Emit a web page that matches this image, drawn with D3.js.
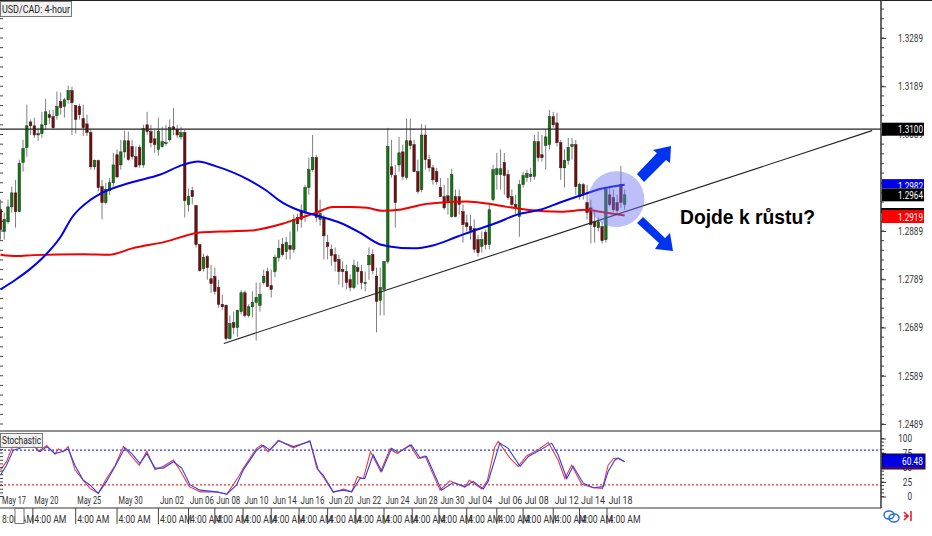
<!DOCTYPE html>
<html><head><meta charset="utf-8">
<script src="https://cdn.jsdelivr.net/npm/d3@7"></script>
<style>html,body{margin:0;padding:0;background:#fff}svg{display:block}text{font-family:Roboto,"Liberation Sans",sans-serif}</style>
</head><body><svg id="c" width="932" height="536"></svg>
<script>
// USD/CAD 4-hour candles, values in 1/10000 (12933 = 1.2933)
const opens=[12933,12888,12908,12939,12968,12929,13031,13062,13115,13107,13088,13091,13109,13130,13126,13128,13157,13147,13161,13180,13149,13147,13122,13111,13093,13022,13035,12981,12948,12973,12989,13047,13026,13053,13076,13064,13043,13062,13026,13109,13095,13080,13058,13064,13070,13078,13105,13099,13084,13093,12944,12973,12942,12861,12811,12836,12790,12795,12772,12737,12735,12666,12699,12689,12722,12761,12714,12732,12741,12735,12782,12805,12776,12805,12834,12861,12846,12859,12851,12917,12929,12929,12979,13016,13041,12913,12917,12865,12851,12840,12830,12809,12805,12788,12772,12813,12805,12780,12819,12840,12795,12745,12768,12826,13022,13004,13026,13053,13000,13076,13068,13012,12975,13088,13037,13020,13012,12979,12960,12962,12919,12960,12960,12929,12906,12898,12894,12871,12857,12886,12861,12954,13006,13006,13031,13006,12960,12944,12919,12985,13000,13002,13002,13074,13047,13066,13068,13126,13113,13072,13020,13035,13064,13068,12960,12985,12948,12937,12908,12896,12898,12871,12964,12958,12948,12985,12944];
const highs=[12954,12927,12954,12981,12995,13037,13078,13151,13120,13124,13103,13136,13163,13140,13140,13178,13176,13165,13190,13188,13149,13153,13151,13130,13099,13037,13037,12995,12989,12999,13051,13058,13078,13097,13095,13078,13064,13068,13109,13136,13109,13099,13124,13105,13109,13120,13144,13109,13105,13099,12977,12981,12942,12861,12842,12840,12819,12813,12788,12757,12737,12714,12722,12726,12766,12766,12737,12764,12782,12782,12809,12813,12809,12840,12871,12875,12877,12888,12923,12925,12944,12985,13041,13088,13047,12954,12923,12881,12861,12855,12840,12826,12819,12799,12830,12826,12819,12805,12855,12851,12813,12813,12788,13103,13078,13026,13084,13068,13122,13122,13078,13037,13111,13109,13047,13026,13020,12999,12985,12999,13018,12975,12975,12944,12923,12923,12913,12881,12888,12892,12944,13026,13051,13058,13051,13016,12975,12964,12995,13012,13016,13020,13088,13095,13088,13099,13140,13136,13134,13078,13058,13082,13082,13078,12989,12989,12985,12954,12933,12917,12908,12979,12981,12975,12964,13024,12975];
const lows=[12871,12871,12904,12927,12896,12929,13012,13043,13088,13082,13076,13082,13099,13111,13101,13120,13130,13124,13153,13088,13091,13120,13086,13086,13016,13016,12971,12913,12944,12964,12981,12999,13016,13041,13035,13037,13020,13020,13020,13088,13062,13051,13045,13062,13066,13074,13088,13082,13078,12917,12929,12944,12855,12805,12805,12788,12761,12757,12730,12726,12662,12664,12675,12670,12716,12710,12710,12710,12662,12722,12778,12774,12751,12793,12826,12836,12830,12830,12844,12888,12896,12908,12964,13012,12908,12900,12830,12830,12817,12805,12778,12772,12768,12764,12768,12778,12768,12764,12788,12799,12679,12714,12714,12821,13000,12896,13012,12995,12995,13058,13012,12966,12969,13016,13012,12985,12985,12960,12933,12923,12917,12917,12923,12865,12888,12871,12844,12836,12844,12851,12851,12950,12975,12975,12964,12954,12937,12923,12877,12979,12991,12991,12995,13033,13033,13016,13058,13103,13064,12995,12979,13026,13037,12964,12954,12954,12913,12863,12865,12888,12863,12865,12940,12929,12923,12937,12933];
const closes=[12892,12913,12939,12968,12929,13029,13060,13107,13107,13088,13091,13109,13136,13124,13103,13147,13145,13161,13180,13155,13120,13130,13103,13093,13022,13035,12979,12948,12975,12989,13026,13001,13053,13076,13037,13043,13022,13026,13101,13095,13072,13068,13095,13074,13072,13103,13099,13088,13093,12952,12960,12960,12861,12807,12834,12813,12780,12764,12737,12732,12666,12697,12689,12724,12761,12714,12732,12741,12751,12757,12795,12774,12768,12834,12853,12840,12865,12851,12913,12904,12913,12979,13016,13041,12917,12925,12879,12857,12838,12826,12805,12805,12782,12772,12817,12805,12782,12782,12838,12807,12743,12772,12826,13064,13006,12948,13051,13002,13076,13066,13012,12971,13088,13037,13020,12995,12991,12960,12937,12950,13006,12919,12944,12902,12898,12890,12851,12844,12871,12861,12933,13016,13018,13018,13004,12958,12944,12937,12985,13004,13008,13006,13074,13041,13041,13084,13126,13109,13072,13020,13035,13062,13068,12981,12985,12964,12927,12902,12898,12908,12869,12975,12944,12933,12931,12948,12964];

// Moving averages: candle index and level
const blueMaIndex=[0,4,8,11.3,16,19,24,26.5,34.5,42.5,48.5,52.5,57,66,70.3,75,79,85,90.3,95.5,101,103.5,109.7,115,121.4,126.7,132,137.4,143.5,148.8,154,160,166];
const blueMaLevel=[12768,12788,12811,12834,12877,12917,12954,12966,12989,13006,13026,13033,13024,12995,12975,12948,12933,12919,12906,12886,12861,12857,12853,12859,12877,12892,12906,12923,12933,12948,12962,12977,12985];
const redMaIndex=[0,4.4,8.7,22,29,35,44,53,58.4,66.4,75,80,84,88.4,93,97.5,101.7,106,112.4,117.7,124,129.4,134.7,140,149,156,159.5,166];
const redMaLevel=[12840,12837,12839,12841,12840,12853,12867,12886,12888,12890,12904,12917,12927,12939,12939,12937,12931,12933,12944,12948,12950,12946,12939,12933,12929,12933,12929,12921];

// Stochastic: candle index and percent
const stochBlueIndex=[0,1.6,3.4,5.2,7.4,8.7,10.5,12.3,14.5,16.3,18,19.8,22,23.8,26,28.2,30.5,33.1,34.9,37.1,38.9,41.1,43.3,46,48.2,50.4,53.1,57.5,60.2,62.8,64.6,68.1,69.9,71.7,73.9,77.9,82.3,84.5,85.8,88.5,91.2,93.4,95.6,96.9,99.1,101.4,104,105.8,109.3,111.6,113.3,117.3,120.4,123.5,125.7,128.4,129.7,132.8,135,138.2,140.4,143.5,146.6,148.3,150.6,152.3,155,157.7,160.3,161.6,163.4,164.3,166];
const stochBlue=[37,54,80,83,95,89,77,86,74,77,82,54,28,20,5.5,26,52,84,74,57,74,49,49,60,49,20,11,8,4,20,46,80,88,80,96,86,95,46,37,8,11,8,31,31,72,43,83,76,89,66,69,11,24,17,26,13,26,92,83,52,69,80,92,72,31,52,23,15,17,43,63,66,60];
const stochRedIndex=[0,1.6,3.2,5.2,7,8.7,10.1,12.3,14.5,15.4,16.7,18,19.8,22,23.8,26,28.2,30.5,32.7,34.9,36.9,38.9,41.1,43.3,46,48.2,50.2,53.1,57.5,60.2,63.3,64.6,68.1,69.5,71.2,73.9,77.9,82.3,84.1,85.8,88.5,91.2,93.4,94.9,96.5,98.4,101.1,103.6,105.5,108.9,111.1,112.9,116.9,119.5,123.5,124.7,128,129.5,131.5,132.4,135.5,137.7,139.9,143.5,145.7,148.3,150.1,151.9,154.6,157.7,160.1,161.6,163.1,164.3,166];
const stochRed=[46,60,86,86,97,89,78,88,73,82,77,86,46,28,14,5.5,31,54,86,69,54,78,46,52,63,40,17,8,8,4,34,49,83,89,77,97,84,96,49,34,7,13,8,34,31,77,43,82,74,89,66,70,11,27,16,28,13,28,86,95,66,52,70,83,93,63,31,54,21,15,14,54,66,66,60];

const priceTicks=[13289,13189,13089,12989,12889,12789,12689,12589,12489];
const stochTicks=[100,75,50,25,0];
const dateLabels=["May 17","May 20","May 25","May 30","Jun 02","Jun 06","Jun 08","Jun 10","Jun 14","Jun 16","Jun 20","Jun 22","Jun 24","Jun 28","Jun 30","Jul 04","Jul 06","Jul 08","Jul 12","Jul 14","Jul 18"];
const dateIndex=[0,8.6,20,31,42,50,57,64.5,72,79.4,87,94.5,102,109.5,116.6,124,132,139,147,154,161.3];
const timeLabels=["8:00 AM","4:00 AM","4:00 AM","4:00 AM","4:00 AM","4:00 AM","4:00 AM","4:00 AM","4:00 AM","4:00 AM","4:00 AM","4:00 AM","4:00 AM","4:00 AM","4:00 AM","4:00 AM","4:00 AM","4:00 AM","4:00 AM","4:00 AM","4:00 AM"];

const resistance=13100;
const trendIndex=[59.4,231.8], trendLevel=[12656,13097];
const priceBadges=[{v:13100,t:"1.3100",bg:"#000"},{v:12982,t:"1.2982",bg:"#0000e6"},{v:12964,t:"1.2964",bg:"#000"},{v:12919,t:"1.2919",bg:"#ff0000"}];

const svg=d3.select("#c");
const axisX=881, textCol="#333";
const x=d3.scaleLinear().domain([0,166]).range([0.5,624.66]);
const y=d3.scaleLinear().domain([13289,12489]).range([38,424]);
const ys=d3.scaleLinear().domain([0,100]).range([496.5,438.5]);
const squeeze=(sel,w)=>sel.attr("textLength",w).attr("lengthAdjust","spacingAndGlyphs");

// minor ticks on both price-pane edges
const minor=d3.range(12389,13389,20).filter(v=>y(v)>3&&y(v)<429);
svg.append("g").selectAll("line").data(minor).join("line")
  .attr("x1",0).attr("x2",3).attr("y1",d=>y(d)).attr("y2",d=>y(d)).attr("stroke","#444");
svg.append("g").selectAll("line").data(minor).join("line")
  .attr("x1",axisX).attr("x2",axisX+3).attr("y1",d=>y(d)).attr("y2",d=>y(d)).attr("stroke","#444");

// candles
const candles=d3.range(opens.length);
svg.append("g").selectAll("line").data(candles).join("line")
  .attr("x1",i=>x(i)).attr("x2",i=>x(i)).attr("y1",i=>y(highs[i])).attr("y2",i=>y(lows[i]))
  .attr("stroke","#808080").attr("stroke-width",1);
svg.append("g").selectAll("rect").data(candles).join("rect")
  .attr("x",i=>x(i)-1.25).attr("width",2.5)
  .attr("y",i=>Math.min(y(opens[i]),y(closes[i])))
  .attr("height",i=>Math.max(1,Math.abs(y(opens[i])-y(closes[i]))))
  .attr("fill",i=>closes[i]>=opens[i]?"#0a7d0a":"#7a0a0a")
  .attr("stroke","#222").attr("stroke-width",0.5);

// moving averages
const maLine=d3.line().x(d=>x(d[0])).y(d=>y(d[1])).curve(d3.curveMonotoneX);
svg.append("path").attr("d",maLine(d3.zip(redMaIndex,redMaLevel))).attr("fill","none").attr("stroke","#f00000").attr("stroke-width",2);
svg.append("path").attr("d",maLine(d3.zip(blueMaIndex,blueMaLevel))).attr("fill","none").attr("stroke","#0000ee").attr("stroke-width",2);

// resistance and trend line
svg.append("line").attr("x1",0).attr("x2",axisX).attr("y1",y(resistance)).attr("y2",y(resistance)).attr("stroke","#222").attr("stroke-width",1.2);
svg.append("line").attr("x1",x(trendIndex[0])).attr("x2",x(trendIndex[1])).attr("y1",y(trendLevel[0])).attr("y2",y(trendLevel[1])).attr("stroke","#222").attr("stroke-width",1.1);

// annotation circle and arrows
svg.append("circle").attr("cx",x(163.8)).attr("cy",y(12955)).attr("r",28).attr("fill","#6a72f0").attr("fill-opacity",0.45);
const arrow=d3.line();
svg.append("path").attr("fill","#0033ee").attr("d",arrow([[637,174],[657,153],[653,150],[671,146],[670,163],[666,160],[644,182]])+"Z");
svg.append("path").attr("fill","#0033ee").attr("d",arrow([[643,217],[665,238],[670,233],[673,251],[655,249],[659,243],[637,223]])+"Z");
svg.append("text").attr("x",680).attr("y",224).attr("font-size",19.3).attr("font-weight",700).attr("fill","#000")
  .style("font-family","'Liberation Sans',Arial,sans-serif").text("Dojde k růstu?");

// price axis
const pAxis=svg.append("g").attr("transform",`translate(${axisX},0)`)
  .call(d3.axisRight(y).tickValues(priceTicks).tickSize(5).tickFormat(d=>(d/1e4).toFixed(4)));
pAxis.select(".domain").remove();
pAxis.selectAll("line").attr("stroke","#444");
pAxis.selectAll("text").attr("x",42).attr("text-anchor","end").attr("font-size",10.5).attr("fill",textCol).style("font-family","Roboto,sans-serif")
  .call(squeeze,25);

const badges=svg.append("g");
badges.append("rect").attr("x",axisX).attr("y",y(12919)-8.5).attr("width",43).attr("height",5).attr("fill","#000");
priceBadges.forEach(b=>{
  badges.append("rect").attr("x",axisX+1).attr("y",y(b.v)-(b.v===12982?7:6.5)).attr("width",42).attr("height",b.v===12982?9:13).attr("fill",b.bg);
  badges.append("text").attr("x",923).attr("y",y(b.v)+4).attr("text-anchor","end").attr("font-size",10.5).attr("fill","#fff").call(squeeze,25).text(b.t);
});

// stochastic pane
svg.append("line").attr("x1",0).attr("x2",axisX).attr("y1",431).attr("y2",431).attr("stroke","#222").attr("stroke-width",1.2);
svg.append("line").attr("x1",0).attr("x2",axisX).attr("y1",ys(80)).attr("y2",ys(80)).attr("stroke","#0000cc").attr("stroke-dasharray","2,2");
svg.append("line").attr("x1",0).attr("x2",axisX).attr("y1",ys(20)).attr("y2",ys(20)).attr("stroke","#e00000").attr("stroke-dasharray","2,2");
const sLine=d3.line().x(d=>x(d[0])).y(d=>ys(d[1]));
svg.append("path").attr("d",sLine(d3.zip(stochRedIndex,stochRed))).attr("fill","none").attr("stroke","#f03a3a").attr("stroke-width",1.1);
svg.append("path").attr("d",sLine(d3.zip(stochBlueIndex,stochBlue))).attr("fill","none").attr("stroke","#3040f0").attr("stroke-width",1.1);

const sMinor=d3.range(0,101,6.25);
svg.append("g").selectAll("line").data(sMinor).join("line")
  .attr("x1",axisX).attr("x2",axisX+3).attr("y1",d=>ys(d)).attr("y2",d=>ys(d)).attr("stroke","#444");
svg.append("g").selectAll("line").data(sMinor).join("line")
  .attr("x1",0).attr("x2",3).attr("y1",d=>ys(d)).attr("y2",d=>ys(d)).attr("stroke","#444");
const sAxis=svg.append("g").attr("transform",`translate(${axisX},0)`)
  .call(d3.axisRight(ys).tickValues(stochTicks).tickSize(5));
sAxis.select(".domain").remove();
sAxis.selectAll("line").attr("stroke","#444");
sAxis.selectAll("text").attr("x",31).attr("text-anchor","end").attr("font-size",10.5).attr("fill",textCol).style("font-family","Roboto,sans-serif")
  .each(function(d){d3.select(this).call(squeeze,String(d).length*4.6);});
svg.append("rect").attr("x",axisX+1).attr("y",454).attr("width",43).attr("height",15).attr("fill","#0000e6").attr("stroke","#111");
svg.append("line").attr("x1",axisX+1).attr("x2",axisX+44).attr("y1",468).attr("y2",468).attr("stroke","#a00");
svg.append("text").attr("x",923).attr("y",465).attr("text-anchor","end").attr("font-size",10.5).attr("fill","#fff").call(squeeze,21).text("60.48");

// frame
svg.append("line").attr("x1",0).attr("x2",932).attr("y1",0.5).attr("y2",0.5).attr("stroke","#222");
svg.append("line").attr("x1",axisX).attr("x2",axisX).attr("y1",0).attr("y2",508).attr("stroke","#333").attr("stroke-width",1.5);
svg.append("line").attr("x1",0).attr("x2",axisX).attr("y1",508).attr("y2",508).attr("stroke","#333").attr("stroke-width",1.2);

// time axis
svg.append("g").selectAll("text").data(dateLabels).join("text")
  .attr("x",(d,i)=>x(dateIndex[i])+1.5).attr("y",504).attr("font-size",10).attr("fill",textCol).call(squeeze,24).text(d=>d);
svg.append("g").selectAll("line").data(dateIndex.slice(1)).join("line")
  .attr("x1",d=>x(d)).attr("x2",d=>x(d)).attr("y1",508).attr("y2",524).attr("stroke","#444");
svg.append("g").selectAll("text").data(timeLabels).join("text")
  .attr("x",(d,i)=>x(dateIndex[i])+1.5).attr("y",523).attr("font-size",11).attr("fill",textCol).call(squeeze,32).text(d=>d);
svg.append("rect").attr("x",15).attr("y",508.5).attr("width",9).attr("height",15).attr("fill","#fff").attr("stroke","#777");

// pane title boxes
function titleBox(bx,by,w,h,t,tw){
  svg.append("rect").attr("x",bx).attr("y",by).attr("width",w).attr("height",h).attr("fill","#f0f0f0").attr("fill-opacity",0.85).attr("stroke","#777");
  svg.append("text").attr("x",bx+1.5).attr("y",by+h-3.5).attr("font-size",11).attr("fill","#222").call(squeeze,tw).text(t);
}
titleBox(0.5,1.5,71,15,"USD/CAD: 4-hour",68);
titleBox(0.5,433.5,42,14,"Stochastic",39);

// corner icons
const icons=svg.append("g").attr("fill","none");
icons.append("ellipse").attr("cx",889).attr("cy",515).attr("rx",5).attr("ry",4).attr("stroke","#2a6ae0").attr("stroke-width",1.5);
icons.append("ellipse").attr("cx",894).attr("cy",518).attr("rx",5).attr("ry",4).attr("stroke","#2a6ae0").attr("stroke-width",1.5);
icons.append("path").attr("d","M904 512l4 4l-4 4M904 516h5M911 511v10").attr("stroke","#e8202a").attr("stroke-width",1.6);
</script></body></html>
